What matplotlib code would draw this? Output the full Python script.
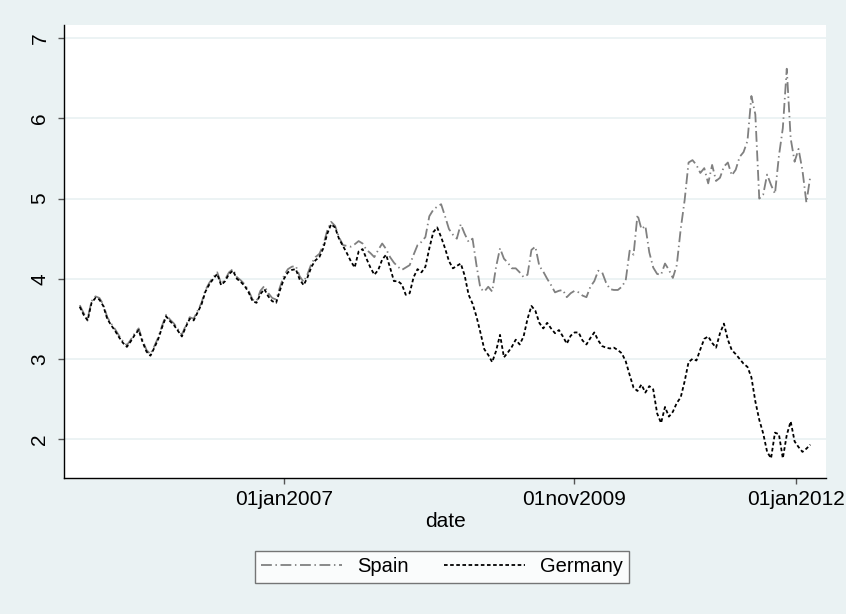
import matplotlib
matplotlib.use("Agg")
import matplotlib.pyplot as plt
import pandas as pd

plt.rcParams['font.family'] = ['Liberation Sans', 'DejaVu Sans']

# 10-year yields, sampled every two weeks from early 2005
start_date = "2005-01-03"

germany = [
    3.65, 3.55, 3.48, 3.70, 3.76, 3.74, 3.66, 3.50, 3.42, 3.35,
    3.27, 3.20, 3.15, 3.22, 3.30, 3.36, 3.21, 3.09, 3.04, 3.14,
    3.25, 3.40, 3.53, 3.47, 3.42, 3.35, 3.28, 3.40, 3.50, 3.48,
    3.58, 3.68, 3.84, 3.93, 4.00, 4.06, 3.92, 3.97, 4.06, 4.10,
    4.00, 3.96, 3.91, 3.83, 3.72, 3.70, 3.81, 3.87, 3.78, 3.72,
    3.70, 3.86, 4.00, 4.08, 4.11, 4.12, 3.99, 3.92, 4.02, 4.15,
    4.23, 4.27, 4.38, 4.56, 4.68, 4.64, 4.50, 4.41, 4.32, 4.22,
    4.14, 4.34, 4.37, 4.25, 4.14, 4.05, 4.11, 4.24, 4.30, 4.14,
    3.97, 3.97, 3.93, 3.80, 3.82, 4.02, 4.12, 4.08, 4.15, 4.38,
    4.58, 4.64, 4.52, 4.38, 4.22, 4.13, 4.16, 4.19, 4.04, 3.80,
    3.69, 3.53, 3.33, 3.12, 3.05, 2.96, 3.10, 3.30, 3.02, 3.08,
    3.15, 3.24, 3.18, 3.28, 3.50, 3.66, 3.60, 3.45, 3.38, 3.45,
    3.38, 3.32, 3.36, 3.28, 3.19, 3.29, 3.33, 3.33, 3.23, 3.18,
    3.26, 3.33, 3.23, 3.16, 3.14, 3.13, 3.14, 3.11, 3.07, 2.97,
    2.80, 2.64, 2.60, 2.68, 2.58, 2.66, 2.62, 2.32, 2.20, 2.40,
    2.28, 2.34, 2.45, 2.52, 2.72, 2.96, 3.00, 2.98, 3.12, 3.25,
    3.28, 3.20, 3.14, 3.32, 3.44, 3.24, 3.11, 3.06, 3.00, 2.94,
    2.90, 2.77, 2.47, 2.24, 2.07, 1.84, 1.76, 2.08, 2.06, 1.76,
    2.05, 2.22, 1.97, 1.90, 1.84, 1.88, 1.93,
]

spain = [
    3.67, 3.57, 3.50, 3.72, 3.78, 3.76, 3.68, 3.52, 3.44, 3.37,
    3.29, 3.22, 3.17, 3.24, 3.32, 3.38, 3.23, 3.11, 3.06, 3.16,
    3.27, 3.42, 3.55, 3.49, 3.44, 3.37, 3.30, 3.42, 3.52, 3.50,
    3.60, 3.70, 3.86, 3.95, 4.02, 4.08, 3.94, 3.99, 4.08, 4.12,
    4.02, 3.98, 3.93, 3.85, 3.74, 3.72, 3.85, 3.91, 3.82, 3.76,
    3.74, 3.90, 4.04, 4.12, 4.15, 4.16, 4.03, 3.96, 4.06, 4.19,
    4.27, 4.31, 4.42, 4.60, 4.71, 4.66, 4.52, 4.42, 4.41, 4.40,
    4.43, 4.47, 4.44, 4.36, 4.32, 4.27, 4.36, 4.44, 4.37, 4.27,
    4.20, 4.15, 4.11, 4.14, 4.17, 4.30, 4.42, 4.46, 4.52, 4.78,
    4.86, 4.90, 4.93, 4.78, 4.62, 4.55, 4.50, 4.68, 4.56, 4.46,
    4.50, 4.17, 3.88, 3.84, 3.90, 3.84, 4.15, 4.38, 4.25, 4.20,
    4.13, 4.13, 4.08, 4.02, 4.05, 4.36, 4.40, 4.16, 4.09, 4.00,
    3.92, 3.83, 3.85, 3.86, 3.77, 3.82, 3.85, 3.83, 3.79, 3.77,
    3.90, 3.97, 4.10, 4.08, 3.95, 3.87, 3.86, 3.86, 3.90, 3.98,
    4.35, 4.30, 4.80, 4.62, 4.66, 4.33, 4.14, 4.06, 4.05, 4.19,
    4.11, 4.01, 4.17, 4.62, 4.98, 5.45, 5.48, 5.42, 5.32, 5.38,
    5.19, 5.42, 5.22, 5.26, 5.40, 5.45, 5.29, 5.36, 5.52, 5.58,
    5.72, 6.28, 6.05, 5.00, 5.05, 5.30, 5.17, 5.06, 5.53, 5.88,
    6.62, 5.75, 5.46, 5.62, 5.35, 4.95, 5.28,
]

tick_dates = ["2007-01-01", "2009-11-01", "2012-01-01"]
tick_labels = ["01jan2007", "01nov2009", "01jan2012"]
y_ticks = [2, 3, 4, 5, 6, 7]

dates = pd.date_range(start_date, periods=len(germany), freq="14D")

bg = "#EAF2F3"
fig = plt.figure(figsize=(8.46, 6.14), dpi=100, facecolor=bg)
ax = fig.add_axes([0.0757, 0.2215, 0.9007, 0.7378])
ax.set_facecolor("white")

ax.plot(dates, spain, color="#808080", lw=1.3,
        linestyle=(0, (6, 2, 0.8, 2)), label="Spain", zorder=2)
ax.plot(dates, germany, color="black", lw=1.3,
        linestyle=(0, (2, 1.4)), label="Germany", zorder=3)

ax.set_xlim(pd.Timestamp("2004-11-08"), pd.Timestamp("2012-04-16"))
ax.set_ylim(1.514, 7.166)

ax.set_xticks(pd.to_datetime(tick_dates))
ax.set_xticklabels(tick_labels)
ax.set_yticks(y_ticks)
ax.set_yticklabels([str(v) for v in y_ticks], rotation=90, va="center")

ax.grid(axis="y", color=bg, lw=1.3, zorder=0)
ax.set_axisbelow(True)

for side in ["top", "right"]:
    ax.spines[side].set_visible(False)
ax.spines["left"].set_color("black")
ax.spines["bottom"].set_color("black")
ax.spines["left"].set_linewidth(1.0)
ax.spines["bottom"].set_linewidth(1.0)

ax.tick_params(axis="both", length=4.5, width=1.0, color="#555555",
               labelsize=15, labelcolor="black")
ax.tick_params(axis="y", pad=6)
ax.tick_params(axis="x", pad=4)

ax.set_xlabel("date", fontsize=15, labelpad=2)

leg = fig.legend(loc="center", bbox_to_anchor=(442 / 846, 1 - 567 / 614),
                 ncol=2, fontsize=14.5, frameon=True, fancybox=False,
                 handlelength=4.0, handletextpad=0.75, columnspacing=1.8,
                 borderpad=0.3, borderaxespad=0)
leg.get_frame().set_edgecolor("#555555")
leg.get_frame().set_linewidth(1.0)
leg.get_frame().set_facecolor("white")

fig.savefig("out.png", dpi=100, facecolor=bg)
